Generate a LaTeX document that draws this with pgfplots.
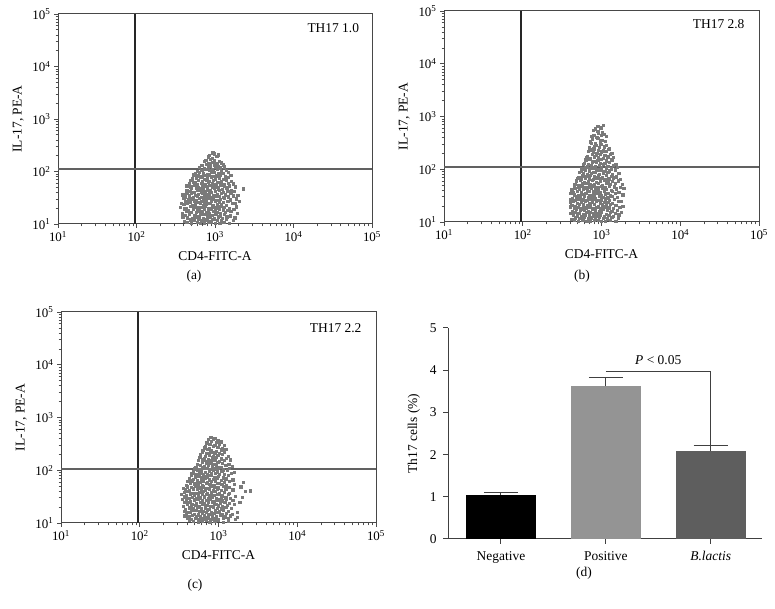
\documentclass[border=0pt]{standalone}
\usepackage{fontspec}
\setmainfont{Liberation Serif}
\usepackage{pgfplots}
\pgfplotsset{compat=1.18}
\newcommand\fs{\fontsize{13}{15}\selectfont}
\newcommand\fl{\fontsize{13.5}{16}\selectfont}

% flow panels: data are log10 values, axes labelled as powers of ten
\pgfplotsset{
  flow/.style={
    scale only axis, anchor=south west,
    xmin=1, xmax=5, ymin=1, ymax=5,
    xtick={1,2,3,4,5}, ytick={1,2,3,4,5},
    xticklabels={10\textsuperscript{1},10\textsuperscript{2},10\textsuperscript{3},10\textsuperscript{4},10\textsuperscript{5}},
    yticklabels={10\textsuperscript{1},10\textsuperscript{2},10\textsuperscript{3},10\textsuperscript{4},10\textsuperscript{5}},
    minor xtick={1.301,1.477,1.602,1.699,1.778,1.845,1.903,1.954,2.301,2.477,2.602,2.699,2.778,2.845,2.903,2.954,3.301,3.477,3.602,3.699,3.778,3.845,3.903,3.954,4.301,4.477,4.602,4.699,4.778,4.845,4.903,4.954},
    minor ytick={1.301,1.477,1.602,1.699,1.778,1.845,1.903,1.954,2.301,2.477,2.602,2.699,2.778,2.845,2.903,2.954,3.301,3.477,3.602,3.699,3.778,3.845,3.903,3.954,4.301,4.477,4.602,4.699,4.778,4.845,4.903,4.954},
    tick align=outside, tick pos=left,
    major tick length=4bp, minor tick length=2.5bp,
    axis line style={black!72, line width=1bp},
    every tick/.style={black!70, line width=0.7bp},
    tick label style={font=\fs},
    label style={font=\fl},
    xlabel={CD4-FITC-A}, ylabel={IL-17, PE-A},
    xlabel style={yshift=-3bp},
    ylabel style={yshift=2bp},
    clip=true,
  },
  dots/.style={only marks, mark=square*, color=black!52, mark size=1.15bp, mark options={draw=none}},
  vgate/.style={black!85, line width=1.9bp},
  hgate/.style={black!62, line width=2bp},
}

\begin{document}
\begin{tikzpicture}[x=1bp, y=1bp]
\fill[white] (0,0) rectangle (775,609);

% ---------- (a)
\begin{axis}[flow, at={(58bp,385bp)}, width=314bp, height=210bp]
\addplot[dots] coordinates {
(2.64,1.03) (2.70,1.01) (2.77,1.04) (2.81,1.02) (2.86,1.01) (2.92,1.04) (2.95,1.03) (3.00,1.01) (3.06,1.02) (3.11,1.04) (3.18,1.01)
(2.61,1.05) (2.68,1.08) (2.73,1.07) (2.79,1.09) (2.83,1.06) (2.88,1.08) (2.93,1.05) (2.97,1.09) (3.03,1.07) (3.08,1.06) (3.14,1.09) (3.23,1.07)
(2.59,1.14) (2.65,1.12) (2.71,1.10) (2.75,1.13) (2.80,1.14) (2.85,1.11) (2.90,1.12) (2.94,1.14) (2.99,1.10) (3.04,1.13) (3.09,1.11) (3.15,1.14) (3.25,1.12)
(2.62,1.17) (2.67,1.19) (2.74,1.16) (2.78,1.15) (2.82,1.18) (2.87,1.19) (2.91,1.16) (2.96,1.17) (3.01,1.19) (3.06,1.15) (3.12,1.18) (3.19,1.16)
(2.58,1.21) (2.64,1.24) (2.69,1.22) (2.76,1.23) (2.81,1.20) (2.84,1.24) (2.89,1.23) (2.93,1.21) (2.98,1.24) (3.02,1.22) (3.07,1.20) (3.13,1.23) (3.20,1.24) (3.28,1.21)
(2.61,1.29) (2.66,1.26) (2.72,1.28) (2.77,1.25) (2.80,1.27) (2.86,1.29) (2.91,1.26) (2.95,1.28) (3.00,1.25) (3.05,1.29) (3.10,1.27) (3.16,1.26) (3.24,1.28)
(2.56,1.32) (2.63,1.30) (2.68,1.34) (2.73,1.33) (2.78,1.31) (2.83,1.32) (2.87,1.34) (2.92,1.30) (2.96,1.33) (3.01,1.31) (3.06,1.34) (3.11,1.32) (3.18,1.30) (3.27,1.33)
(2.60,1.38) (2.65,1.39) (2.71,1.35) (2.75,1.37) (2.81,1.39) (2.85,1.36) (2.89,1.38) (2.94,1.39) (2.98,1.35) (3.03,1.37) (3.08,1.38) (3.14,1.36) (3.22,1.39)
(2.57,1.40) (2.62,1.43) (2.68,1.42) (2.74,1.44) (2.78,1.41) (2.82,1.44) (2.87,1.42) (2.91,1.40) (2.95,1.43) (3.00,1.44) (3.05,1.41) (3.10,1.42) (3.16,1.44) (3.25,1.40) (3.31,1.43)
(2.60,1.49) (2.66,1.46) (2.70,1.48) (2.76,1.45) (2.80,1.49) (2.85,1.47) (2.89,1.46) (2.93,1.49) (2.97,1.48) (3.02,1.45) (3.07,1.47) (3.12,1.49) (3.19,1.46) (3.27,1.48)
(2.62,1.52) (2.67,1.54) (2.72,1.50) (2.77,1.53) (2.83,1.51) (2.87,1.54) (2.92,1.52) (2.96,1.50) (3.01,1.54) (3.05,1.53) (3.11,1.51) (3.17,1.52) (3.23,1.54)
(2.59,1.56) (2.64,1.58) (2.70,1.59) (2.75,1.55) (2.79,1.57) (2.84,1.58) (2.88,1.56) (2.93,1.59) (2.98,1.55) (3.03,1.57) (3.08,1.59) (3.13,1.56) (3.20,1.58) (3.29,1.55)
(2.63,1.64) (2.68,1.62) (2.73,1.61) (2.78,1.64) (2.82,1.60) (2.87,1.63) (2.91,1.64) (2.95,1.61) (3.00,1.62) (3.05,1.64) (3.10,1.60) (3.16,1.63) (3.24,1.62)
(2.65,1.65) (2.70,1.68) (2.76,1.69) (2.81,1.67) (2.85,1.66) (2.90,1.69) (2.94,1.65) (2.99,1.68) (3.04,1.67) (3.09,1.66) (3.15,1.69) (3.21,1.65) (3.36,1.67)
(2.64,1.73) (2.69,1.71) (2.74,1.74) (2.79,1.70) (2.84,1.73) (2.88,1.72) (2.93,1.74) (2.97,1.71) (3.02,1.70) (3.07,1.74) (3.12,1.72) (3.18,1.73) (3.26,1.71)
(2.67,1.77) (2.72,1.79) (2.77,1.76) (2.82,1.78) (2.87,1.75) (2.91,1.79) (2.96,1.77) (3.01,1.76) (3.06,1.79) (3.11,1.75) (3.17,1.78) (3.23,1.77)
(2.69,1.84) (2.74,1.80) (2.79,1.83) (2.84,1.82) (2.89,1.84) (2.93,1.81) (2.98,1.83) (3.03,1.80) (3.08,1.82) (3.14,1.84) (3.21,1.81)
(2.71,1.86) (2.76,1.88) (2.81,1.89) (2.86,1.85) (2.90,1.87) (2.95,1.89) (3.00,1.86) (3.05,1.88) (3.10,1.85) (3.16,1.89)
(2.73,1.94) (2.78,1.92) (2.83,1.90) (2.88,1.93) (2.92,1.94) (2.97,1.91) (3.02,1.92) (3.07,1.94) (3.13,1.90) (3.20,1.93)
(2.75,1.97) (2.80,1.99) (2.85,1.96) (2.90,1.95) (2.95,1.98) (2.99,1.99) (3.04,1.96) (3.10,1.97) (3.17,1.99)
(2.77,2.00) (2.83,2.03) (2.88,2.04) (2.93,2.02) (2.98,2.01) (3.03,2.04) (3.08,2.00) (3.14,2.03)
(2.80,2.08) (2.86,2.06) (2.91,2.09) (2.96,2.05) (3.01,2.08) (3.06,2.07) (3.12,2.09)
(2.83,2.12) (2.89,2.14) (2.94,2.11) (2.99,2.13) (3.04,2.10) (3.10,2.13)
(2.86,2.19) (2.92,2.16) (2.97,2.18) (3.02,2.15) (3.08,2.17)
(2.88,2.21) (2.94,2.24) (2.99,2.22) (3.05,2.20)
(2.91,2.28) (2.96,2.25) (3.02,2.29)
(2.93,2.31) (2.99,2.34) (3.04,2.32)
(2.97,2.36)
};
\addplot[vgate] coordinates {(1.978,1) (1.978,5)};
\addplot[hgate] coordinates {(1,2.04) (5,2.04)};
\node[anchor=east, font=\fl] at (rel axis cs:0.97,0.935) {TH17 1.0};
\end{axis}

% ---------- (b)
\begin{axis}[flow, at={(444bp,387bp)}, width=315bp, height=211bp]
\addplot[dots] coordinates {
(2.65,1.03) (2.70,1.01) (2.76,1.04) (2.81,1.02) (2.85,1.01) (2.91,1.04) (2.96,1.03) (3.00,1.01) (3.05,1.02) (3.11,1.04) (3.18,1.01)
(2.62,1.05) (2.67,1.08) (2.72,1.07) (2.78,1.09) (2.83,1.06) (2.87,1.08) (2.92,1.05) (2.97,1.09) (3.02,1.07) (3.07,1.06) (3.13,1.09) (3.21,1.07)
(2.64,1.14) (2.69,1.12) (2.74,1.10) (2.79,1.13) (2.84,1.14) (2.89,1.11) (2.94,1.12) (2.98,1.14) (3.03,1.10) (3.09,1.13) (3.15,1.11) (3.22,1.14)
(2.61,1.17) (2.66,1.19) (2.71,1.16) (2.77,1.15) (2.81,1.18) (2.86,1.19) (2.90,1.16) (2.95,1.17) (3.00,1.19) (3.06,1.15) (3.11,1.18) (3.17,1.16) (3.25,1.19)
(2.63,1.21) (2.68,1.24) (2.73,1.22) (2.78,1.23) (2.83,1.20) (2.88,1.24) (2.92,1.23) (2.97,1.21) (3.02,1.24) (3.07,1.22) (3.13,1.20) (3.20,1.23)
(2.60,1.29) (2.65,1.26) (2.70,1.28) (2.75,1.25) (2.80,1.27) (2.85,1.29) (2.90,1.26) (2.94,1.28) (2.99,1.25) (3.04,1.29) (3.09,1.27) (3.15,1.26) (3.23,1.28)
(2.62,1.32) (2.67,1.30) (2.72,1.34) (2.77,1.33) (2.82,1.31) (2.86,1.32) (2.91,1.34) (2.96,1.30) (3.01,1.33) (3.06,1.31) (3.11,1.34) (3.18,1.32) (3.27,1.30)
(2.60,1.38) (2.64,1.39) (2.69,1.35) (2.74,1.37) (2.79,1.39) (2.84,1.36) (2.88,1.38) (2.93,1.39) (2.98,1.35) (3.03,1.37) (3.08,1.38) (3.14,1.36) (3.21,1.39)
(2.61,1.43) (2.66,1.41) (2.71,1.44) (2.76,1.42) (2.81,1.41) (2.86,1.44) (2.90,1.43) (2.95,1.41) (3.00,1.42) (3.05,1.44) (3.10,1.41) (3.16,1.43) (3.25,1.40)
(2.63,1.45) (2.68,1.48) (2.73,1.47) (2.78,1.49) (2.83,1.46) (2.88,1.48) (2.92,1.45) (2.97,1.49) (3.02,1.47) (3.08,1.46) (3.13,1.49) (3.20,1.47)
(2.61,1.54) (2.65,1.52) (2.70,1.50) (2.75,1.53) (2.80,1.54) (2.85,1.51) (2.90,1.52) (2.95,1.54) (3.00,1.50) (3.05,1.53) (3.11,1.51) (3.17,1.54) (3.27,1.52)
(2.64,1.57) (2.69,1.59) (2.74,1.56) (2.79,1.55) (2.84,1.58) (2.89,1.59) (2.93,1.56) (2.98,1.57) (3.03,1.59) (3.08,1.55) (3.14,1.58) (3.22,1.56)
(2.62,1.61) (2.67,1.64) (2.72,1.62) (2.77,1.63) (2.82,1.60) (2.87,1.64) (2.92,1.63) (2.96,1.61) (3.01,1.64) (3.06,1.62) (3.12,1.60) (3.19,1.63) (3.28,1.64)
(2.65,1.69) (2.70,1.66) (2.75,1.68) (2.80,1.65) (2.85,1.67) (2.90,1.69) (2.95,1.66) (3.00,1.68) (3.05,1.65) (3.10,1.69) (3.16,1.67) (3.24,1.66)
(2.66,1.72) (2.71,1.70) (2.76,1.74) (2.81,1.73) (2.86,1.71) (2.91,1.72) (2.96,1.74) (3.01,1.70) (3.06,1.73) (3.11,1.71) (3.17,1.74) (3.26,1.72)
(2.68,1.78) (2.73,1.79) (2.78,1.75) (2.83,1.77) (2.88,1.79) (2.93,1.76) (2.98,1.78) (3.03,1.79) (3.08,1.75) (3.14,1.77) (3.21,1.78)
(2.69,1.83) (2.74,1.81) (2.79,1.84) (2.84,1.82) (2.89,1.81) (2.94,1.84) (2.99,1.83) (3.04,1.81) (3.09,1.82) (3.15,1.84) (3.24,1.81)
(2.71,1.85) (2.76,1.88) (2.81,1.87) (2.86,1.89) (2.91,1.86) (2.96,1.88) (3.01,1.85) (3.06,1.89) (3.12,1.87) (3.19,1.86)
(2.72,1.94) (2.77,1.92) (2.82,1.90) (2.87,1.93) (2.92,1.94) (2.97,1.91) (3.02,1.92) (3.08,1.94) (3.14,1.90) (3.22,1.93)
(2.74,1.97) (2.79,1.99) (2.84,1.96) (2.89,1.95) (2.94,1.98) (2.99,1.99) (3.04,1.96) (3.10,1.97) (3.17,1.99)
(2.75,2.01) (2.80,2.04) (2.85,2.02) (2.90,2.03) (2.95,2.00) (3.00,2.04) (3.06,2.03) (3.12,2.01) (3.20,2.04)
(2.77,2.09) (2.82,2.06) (2.87,2.08) (2.92,2.05) (2.97,2.07) (3.02,2.09) (3.08,2.06) (3.15,2.08)
(2.78,2.12) (2.83,2.10) (2.88,2.14) (2.93,2.13) (2.98,2.11) (3.04,2.12) (3.10,2.14) (3.18,2.10)
(2.80,2.18) (2.85,2.19) (2.90,2.15) (2.95,2.17) (3.00,2.19) (3.06,2.16) (3.13,2.18)
(2.81,2.23) (2.86,2.21) (2.91,2.24) (2.96,2.22) (3.02,2.21) (3.08,2.24) (3.15,2.23)
(2.82,2.25) (2.88,2.28) (2.93,2.27) (2.98,2.29) (3.04,2.26) (3.11,2.28)
(2.83,2.34) (2.89,2.32) (2.94,2.30) (3.00,2.33) (3.06,2.34) (3.13,2.31)
(2.85,2.37) (2.90,2.39) (2.96,2.36) (3.02,2.35) (3.09,2.38)
(2.84,2.41) (2.91,2.44) (2.97,2.42) (3.03,2.43) (3.10,2.40)
(2.87,2.49) (2.93,2.46) (2.99,2.48) (3.06,2.45)
(2.86,2.52) (2.92,2.50) (2.98,2.54) (3.05,2.53)
(2.88,2.58) (2.95,2.59) (3.01,2.55)
(2.87,2.63) (2.94,2.61) (3.00,2.64) (3.06,2.62)
(2.90,2.65) (2.96,2.68) (3.03,2.67)
(2.89,2.74) (2.95,2.72) (3.01,2.70)
(2.92,2.77) (2.99,2.79)
(2.95,2.81) (3.02,2.84)
};
\addplot[vgate] coordinates {(1.978,1) (1.978,5)};
\addplot[hgate] coordinates {(1,2.04) (5,2.04)};
\node[anchor=east, font=\fl] at (rel axis cs:0.965,0.94) {TH17 2.8};
\end{axis}

% ---------- (c)
\begin{axis}[flow, at={(61bp,86bp)}, width=315bp, height=211bp]
\addplot[dots] coordinates {
(2.63,1.05) (2.68,1.03) (2.74,1.01) (2.79,1.04) (2.84,1.05) (2.89,1.02) (2.95,1.03) (3.00,1.05) (3.06,1.01) (3.12,1.04)
(2.60,1.10) (2.65,1.07) (2.70,1.09) (2.75,1.06) (2.80,1.08) (2.85,1.10) (2.90,1.07) (2.95,1.09) (3.00,1.06) (3.06,1.10) (3.12,1.08) (3.21,1.07)
(2.57,1.14) (2.62,1.12) (2.67,1.15) (2.72,1.13) (2.77,1.12) (2.82,1.15) (2.87,1.14) (2.92,1.12) (2.97,1.13) (3.02,1.15) (3.08,1.12) (3.15,1.14) (3.24,1.11)
(2.59,1.18) (2.64,1.20) (2.69,1.17) (2.74,1.16) (2.79,1.19) (2.84,1.20) (2.89,1.17) (2.94,1.18) (2.99,1.20) (3.04,1.16) (3.10,1.19) (3.17,1.17)
(2.56,1.23) (2.61,1.21) (2.66,1.25) (2.71,1.24) (2.76,1.22) (2.81,1.23) (2.86,1.25) (2.91,1.21) (2.96,1.24) (3.01,1.22) (3.06,1.25) (3.12,1.23) (3.24,1.21)
(2.58,1.26) (2.63,1.29) (2.68,1.28) (2.73,1.30) (2.78,1.27) (2.83,1.29) (2.88,1.26) (2.93,1.30) (2.98,1.28) (3.03,1.27) (3.09,1.30) (3.16,1.28)
(2.55,1.32) (2.60,1.35) (2.65,1.33) (2.70,1.34) (2.75,1.31) (2.80,1.35) (2.85,1.34) (2.90,1.32) (2.95,1.35) (3.00,1.33) (3.05,1.31) (3.11,1.34) (3.20,1.35)
(2.57,1.39) (2.62,1.40) (2.67,1.36) (2.72,1.38) (2.77,1.40) (2.82,1.37) (2.87,1.39) (2.92,1.40) (2.97,1.36) (3.02,1.38) (3.08,1.39) (3.14,1.37) (3.27,1.40)
(2.54,1.45) (2.59,1.43) (2.64,1.41) (2.69,1.44) (2.74,1.45) (2.79,1.42) (2.84,1.43) (2.89,1.45) (2.94,1.41) (2.99,1.44) (3.04,1.42) (3.10,1.45) (3.18,1.43)
(2.57,1.50) (2.62,1.47) (2.67,1.49) (2.72,1.46) (2.77,1.48) (2.82,1.50) (2.87,1.47) (2.92,1.49) (2.97,1.46) (3.03,1.50) (3.09,1.48) (3.15,1.47) (3.30,1.49)
(2.53,1.54) (2.59,1.52) (2.64,1.55) (2.69,1.53) (2.74,1.52) (2.79,1.55) (2.84,1.54) (2.89,1.52) (2.94,1.53) (2.99,1.55) (3.05,1.52) (3.12,1.54) (3.21,1.51)
(2.56,1.58) (2.61,1.60) (2.66,1.57) (2.71,1.56) (2.76,1.59) (2.81,1.60) (2.86,1.57) (2.91,1.58) (2.96,1.60) (3.01,1.56) (3.07,1.59) (3.14,1.57) (3.34,1.60)
(2.58,1.63) (2.63,1.61) (2.68,1.65) (2.73,1.64) (2.78,1.62) (2.83,1.63) (2.88,1.65) (2.93,1.61) (2.98,1.64) (3.03,1.62) (3.09,1.65) (3.18,1.63) (3.40,1.61)
(2.55,1.66) (2.60,1.69) (2.65,1.68) (2.70,1.70) (2.75,1.67) (2.80,1.69) (2.85,1.66) (2.90,1.70) (2.95,1.68) (3.00,1.67) (3.06,1.70) (3.13,1.68) (3.28,1.69)
(2.59,1.72) (2.64,1.75) (2.69,1.73) (2.74,1.74) (2.79,1.71) (2.84,1.75) (2.89,1.74) (2.94,1.72) (2.99,1.75) (3.04,1.73) (3.10,1.71) (3.20,1.74)
(2.61,1.79) (2.66,1.80) (2.71,1.76) (2.76,1.78) (2.81,1.80) (2.86,1.77) (2.91,1.79) (2.96,1.80) (3.01,1.76) (3.07,1.78) (3.14,1.79) (3.31,1.77)
(2.63,1.85) (2.68,1.83) (2.73,1.81) (2.78,1.84) (2.83,1.85) (2.88,1.82) (2.93,1.83) (2.98,1.85) (3.03,1.81) (3.09,1.84) (3.18,1.82)
(2.65,1.90) (2.70,1.87) (2.75,1.89) (2.80,1.86) (2.85,1.88) (2.90,1.90) (2.95,1.87) (3.00,1.89) (3.06,1.86) (3.12,1.90)
(2.66,1.94) (2.71,1.92) (2.76,1.95) (2.81,1.93) (2.86,1.92) (2.91,1.95) (2.96,1.94) (3.01,1.92) (3.07,1.93) (3.16,1.95)
(2.68,1.98) (2.73,2.00) (2.78,1.97) (2.83,1.96) (2.88,1.99) (2.93,2.00) (2.98,1.97) (3.04,1.98) (3.11,2.00) (3.20,1.96)
(2.69,2.03) (2.75,2.01) (2.80,2.05) (2.85,2.04) (2.90,2.02) (2.95,2.03) (3.00,2.05) (3.06,2.01) (3.14,2.04)
(2.71,2.06) (2.77,2.09) (2.82,2.08) (2.87,2.10) (2.92,2.07) (2.97,2.09) (3.03,2.06) (3.09,2.10) (3.17,2.08)
(2.73,2.12) (2.79,2.15) (2.84,2.13) (2.89,2.14) (2.94,2.11) (2.99,2.15) (3.05,2.14) (3.13,2.12)
(2.74,2.19) (2.80,2.20) (2.85,2.16) (2.90,2.18) (2.95,2.20) (3.01,2.17) (3.07,2.19) (3.15,2.20)
(2.76,2.25) (2.82,2.23) (2.87,2.21) (2.92,2.24) (2.97,2.25) (3.03,2.22) (3.10,2.23)
(2.77,2.30) (2.83,2.27) (2.88,2.29) (2.93,2.26) (2.99,2.28) (3.05,2.30) (3.12,2.27)
(2.79,2.34) (2.85,2.32) (2.90,2.35) (2.95,2.33) (3.01,2.32) (3.07,2.35)
(2.80,2.38) (2.86,2.40) (2.91,2.37) (2.97,2.36) (3.03,2.39) (3.09,2.40)
(2.82,2.43) (2.88,2.41) (2.93,2.45) (2.99,2.44) (3.05,2.42)
(2.83,2.46) (2.89,2.49) (2.95,2.48) (3.01,2.50) (3.07,2.47)
(2.85,2.52) (2.91,2.55) (2.97,2.53) (3.03,2.54)
(2.87,2.59) (2.93,2.60) (2.99,2.56)
(2.90,2.62) (2.96,2.61)
};
\addplot[vgate] coordinates {(1.978,1) (1.978,5)};
\addplot[hgate] coordinates {(1,2.03) (5,2.03)};
\node[anchor=east, font=\fl] at (rel axis cs:0.965,0.925) {TH17 2.2};
\end{axis}

% ---------- (d)
\begin{axis}[at={(448bp,70bp)}, anchor=south west, scale only axis,
  width=314bp, height=211bp,
  xmin=-0.505, xmax=2.49, ymin=0, ymax=5,
  axis x line=bottom, axis y line=left,
  axis line style={-, black!75, line width=1bp},
  every tick/.style={black!75, line width=1bp},
  tick align=outside, major tick length=5bp,
  xtick={0,1,2}, xticklabels={Negative,Positive,\textit{B.lactis}},
  ytick={0,1,2,3,4,5},
  /pgf/number format/assume math mode=true,
  tick label style={font=\fl},
  x tick label style={yshift=-4bp},
  y tick label style={xshift=-3bp},
  label style={font=\fl},
  ylabel={Th17 cells (\%)},
  ylabel style={yshift=3bp},
  bar width=0.667,
  clip=false,
]
\addplot[ybar, bar shift=0pt, fill=black, draw=none,
  error bars/.cd, y dir=plus, y explicit,
  error bar style={black!75, line width=1bp},
  error mark options={black!75, line width=1bp, mark size=17bp, rotate=90}]
  coordinates {(0,1.04) +- (0,0.07)};
\addplot[ybar, bar shift=0pt, fill=black!42, draw=none,
  error bars/.cd, y dir=plus, y explicit,
  error bar style={black!75, line width=1bp},
  error mark options={black!75, line width=1bp, mark size=17bp, rotate=90}]
  coordinates {(1,3.62) +- (0,0.21)};
\addplot[ybar, bar shift=0pt, fill=black!63, draw=none,
  error bars/.cd, y dir=plus, y explicit,
  error bar style={black!75, line width=1bp},
  error mark options={black!75, line width=1bp, mark size=17bp, rotate=90}]
  coordinates {(2,2.08) +- (0,0.13)};
\addplot[black!75, line width=1bp] coordinates {(1,3.98) (2,3.98) (2,2.21)};
\node[font=\fl] at (axis cs:1.5,4.24) {\textit{P} < 0.05};
\end{axis}

\node[font=\fl] at (194,333) {(a)};
\node[font=\fl] at (582,333) {(b)};
\node[font=\fl] at (195,24) {(c)};
\node[font=\fl] at (584,36) {(d)};
\end{tikzpicture}
\end{document}
